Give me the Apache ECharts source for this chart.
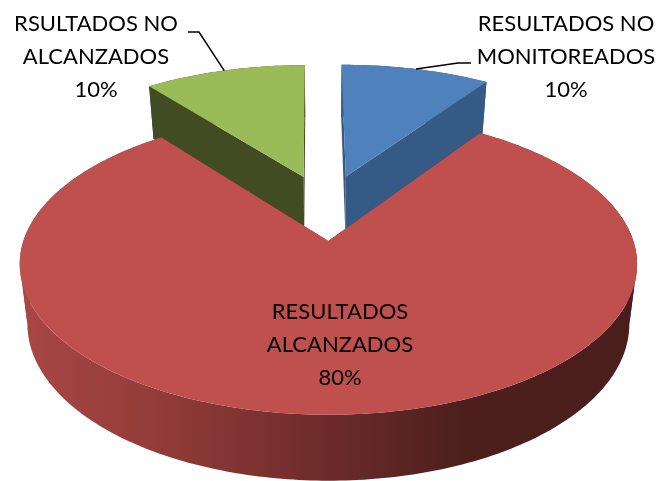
<!DOCTYPE html>
<html>
<head>
<meta charset="utf-8">
<style>html,body{margin:0;padding:0;background:#fff}#c{width:661px;height:481px}</style>
<script src="https://cdn.jsdelivr.net/npm/echarts@6/dist/echarts.min.js"></script>
</head>
<body>
<div id="c"></div>
<script>
// ---- data ----
const categories = ["RESULTADOS NO\nMONITOREADOS", "RESULTADOS\nALCANZADOS", "RSULTADOS NO\nALCANZADOS"];
const values = [9.6, 80, 10.4];

// ---- styles & layout (not data) ----
const topColors = ["#4f81bd", "#c0504d", "#9bbb59"];
const wallColors = ["#355a86", "#7a2f2d", "#424c23"];
const labelPos = [[566, 57], [340, 345], [96, 57]];
const leaderElbow = [[[458, 63], [471, 63]], null, [[199, 32], [188, 32]]];
const START = -0.4 * Math.PI / 180, CX = 326, CY = 241, R = 305, K = 147, P = 0.154, EXPLODE = 0.24;
const DEPTH = 59, BOTTOM_SX = 0.975, BOTTOM_SY = 1.04, FONT = '22px Lato, "Noto Sans", sans-serif';

const total = values.reduce((a, b) => a + b, 0);
const spans = [];
values.reduce((acc, v) => { const a = acc + v / total * 2 * Math.PI; spans.push([acc, a]); return a; }, START);

function project(X, Y) {
  const s = 1 / (1 - P * Y);
  return [CX + R * X * s, CY + K * Y * s];
}
function lower(p) {
  return [CX + (p[0] - CX) * BOTTOM_SX, CY + (p[1] - CY) * BOTTOM_SY + DEPTH];
}
function rimPoint(i, t) {
  const m = (spans[i][0] + spans[i][1]) / 2;
  return project(EXPLODE * Math.sin(m) + Math.sin(t), -EXPLODE * Math.cos(m) - EXPLODE - Math.cos(t));
}
function apex(i) {
  const m = (spans[i][0] + spans[i][1]) / 2;
  return project(EXPLODE * Math.sin(m), -EXPLODE * Math.cos(m) - EXPLODE);
}
function rim(i) {
  const out = [], n = Math.max(8, Math.round((spans[i][1] - spans[i][0]) * 60));
  for (let k = 0; k <= n; k++) out.push(rimPoint(i, spans[i][0] + (spans[i][1] - spans[i][0]) * k / n));
  return out;
}
// split the rim where its screen x turns back, so each wall polygon is simple
function monotoneRuns(arc) {
  const runs = [];
  let run = [arc[0], arc[1]], dir = Math.sign(arc[1][0] - arc[0][0]);
  for (let k = 2; k < arc.length; k++) {
    const d = Math.sign(arc[k][0] - arc[k - 1][0]);
    if (d !== dir && d !== 0) { runs.push(run); run = [arc[k - 1]]; dir = d; }
    run.push(arc[k]);
  }
  runs.push(run);
  return runs;
}
const redWall = {
  type: 'linear', global: true, x: 20, y: 0, x2: 636, y2: 0,
  colorStops: [
    { offset: 0, color: '#a94744' }, { offset: 0.22, color: '#933c39' },
    { offset: 0.5, color: '#6c2b2a' }, { offset: 0.72, color: '#4c1f1d' }, { offset: 1, color: '#4a1e1c' }
  ]
};
function renderItem(params, api) {
  const i = api.value(1);
  const arc = rim(i), a = apex(i);
  const wall = i === 1 ? redWall : wallColors[i];
  const poly = (pts, fill) => ({ type: 'polygon', shape: { points: pts }, silent: true, style: { fill: fill } });
  const children = [];
  // radial walls
  [arc[0], arc[arc.length - 1]].forEach(e => {
    children.push(poly([a, e, lower(e), lower(a)], wall));
  });
  // outer wall
  monotoneRuns(arc).forEach(run => {
    children.push(poly(run.concat(run.map(lower).reverse()), wall));
  });
  // top face
  children.push(poly([a].concat(arc), topColors[i]));
  // leader line
  if (leaderElbow[i]) {
    const m = (spans[i][0] + spans[i][1]) / 2;
    children.push({
      type: 'polyline',
      shape: { points: [rimPoint(i, m)].concat(leaderElbow[i]) },
      style: { stroke: '#000', lineWidth: 1.5, fill: null }, silent: true
    });
  }
  // label
  children.push({
    type: 'text', z2: 10, silent: true,
    style: {
      x: labelPos[i][0], y: labelPos[i][1],
      text: categories[i] + '\n' + Math.round(values[i] / total * 100) + '%',
      font: FONT, lineHeight: 33, fill: '#000', align: 'center', verticalAlign: 'middle'
    }
  });
  return { type: 'group', children };
}
const chart = echarts.init(document.getElementById('c'), null, { renderer: 'canvas' });
// painter's order: back slices first, the large front slice last
const order = values.map((v, i) => [v, i]).sort((a, b) => a[0] - b[0]);
chart.setOption({
  animation: false,
  backgroundColor: '#fff',
  series: [{ type: 'custom', coordinateSystem: 'none', renderItem, data: order, clip: false }]
});
</script>
</body>
</html>
